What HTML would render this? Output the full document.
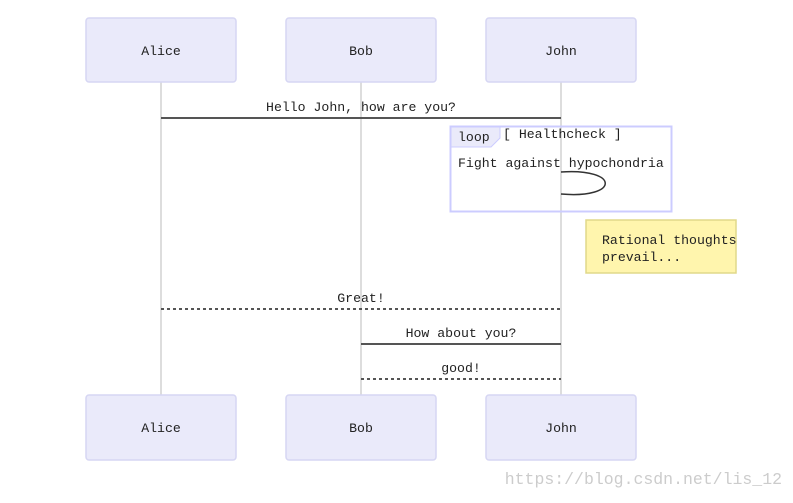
<!DOCTYPE html>
<html><head><meta charset="utf-8"><style>
body{margin:0;background:#fff;width:793px;height:498px;overflow:hidden}
text{font-family:"Liberation Mono","DejaVu Sans Mono",monospace;font-size:13.2px;fill:#222}
</style></head><body>
<svg width="793" height="498" xmlns="http://www.w3.org/2000/svg">
<g stroke="#ddd" stroke-width="2">
<line x1="161" y1="82" x2="161" y2="395"/><line x1="361" y1="82" x2="361" y2="395"/><line x1="561" y1="82" x2="561" y2="395"/>
</g>
<g fill="#eaeafa" stroke="#d6d6f3" stroke-width="1.5">
<rect x="86" y="18" width="150" height="64" rx="3"/><rect x="286" y="18" width="150" height="64" rx="3"/><rect x="486" y="18" width="150" height="64" rx="3"/>
<rect x="86" y="395" width="150" height="65" rx="3"/><rect x="286" y="395" width="150" height="65" rx="3"/><rect x="486" y="395" width="150" height="65" rx="3"/>
</g>
<g text-anchor="middle">
<text x="161" y="55">Alice</text><text x="361" y="55">Bob</text><text x="561" y="55">John</text>
<text x="161" y="432">Alice</text><text x="361" y="432">Bob</text><text x="561" y="432">John</text>
<text x="361" y="111">Hello John, how are you?</text>
<text x="361" y="302">Great!</text>
<text x="461" y="337">How about you?</text>
<text x="461" y="372">good!</text>
</g>
<line x1="161" y1="118" x2="561" y2="118" stroke="#555" stroke-width="2"/>
<rect x="450.5" y="126.5" width="221" height="85" fill="none" stroke="#ccf" stroke-width="2"/>
<polygon points="451,127 500,127 500,138 491,147 451,147" fill="#eaeafa" stroke="#ccf"/>
<text x="458" y="141">loop</text>
<text x="503" y="138">[ Healthcheck ]</text>
<text x="458" y="167">Fight against hypochondria</text>
<path d="M561,172 C620,168 620,199 561,194" fill="none" stroke="#333" stroke-width="1.5"/>
<rect x="586" y="220" width="150" height="53" fill="#fff5ad" stroke="#e0d88a" stroke-width="1.5"/>
<text x="602" y="244">Rational thoughts</text>
<text x="602" y="261">prevail...</text>
<line x1="161" y1="309" x2="561" y2="309" stroke="#555" stroke-width="2" stroke-dasharray="3,3"/>
<line x1="361" y1="344" x2="561" y2="344" stroke="#555" stroke-width="2"/>
<line x1="361" y1="379" x2="561" y2="379" stroke="#555" stroke-width="2" stroke-dasharray="3,3"/>
<text x="782" y="484" text-anchor="end" style="fill:#ccc;font-size:16.5px">https://blog.csdn.net/lis_12</text>
</svg>
</body></html>
